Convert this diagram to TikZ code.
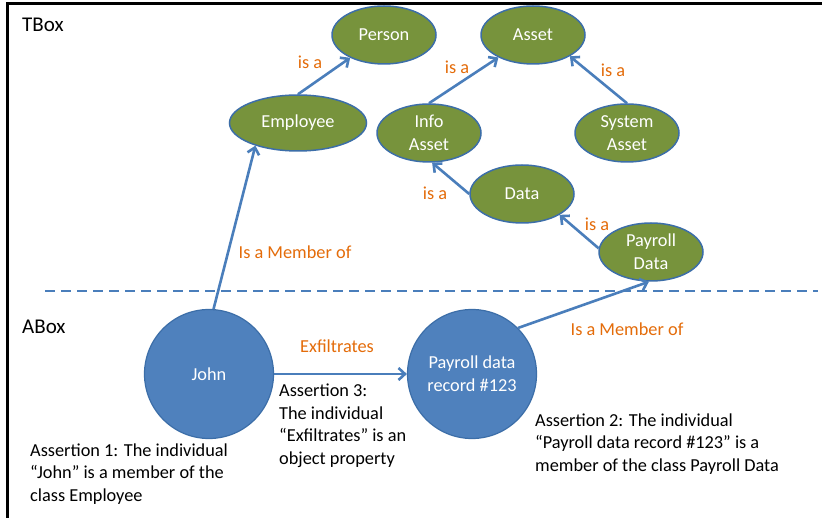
\documentclass[tikz,border=0pt]{standalone}
\usepackage{fontspec}
\setmainfont{Carlito}
\usetikzlibrary{shapes.geometric,arrows.meta}
\definecolor{olive}{HTML}{77933C}
\definecolor{shapeblue}{HTML}{4F81BD}
\definecolor{edgeblue}{HTML}{4A7EBB}
\definecolor{borderblue}{HTML}{3C6EA8}
\definecolor{lblorange}{HTML}{E46C0A}
\tikzset{
  cls/.style={ellipse, fill=olive, draw=borderblue, line width=1.5pt, text=white,
    minimum width=104pt, minimum height=58pt, inner sep=0pt, align=center,
    font=\fontsize{18.3}{23}\selectfont},
  indiv/.style={circle, fill=shapeblue, draw=borderblue, line width=1.2pt, text=white,
    minimum size=129pt, inner sep=0pt, align=center, font=\fontsize{18.3}{23}\selectfont},
  rel/.style={draw=edgeblue, line width=2.6pt, -{Straight Barb[length=6.5pt,width=12pt,line width=2.6pt]}},
  lbl/.style={text=lblorange, inner sep=0pt, font=\fontsize{18.3}{22}\selectfont},
  note/.style={inner sep=0pt, anchor=west, align=left, text=black, font=\fontsize{18.3}{22.5}\selectfont},
  boxlbl/.style={inner sep=0pt, anchor=west, text=black, font=\fontsize{21}{25}\selectfont}
}
\begin{document}
\begin{tikzpicture}[x=1pt,y=-1pt]
\useasboundingbox (0,0) rectangle (822,518);
\fill[white] (0,0) rectangle (822,518);
\draw[line width=2.6pt, black] (7.5,518) -- (7.5,3.5) -- (822,3.5);
\coordinate (dl) at (45,291);
\coordinate (dr) at (818,291);
\draw[edgeblue, line width=2.8pt, dash pattern=on 10pt off 6pt] (dl) -- (dr);

\node[boxlbl] (tbox) at (22,25) {TBox};
\node[boxlbl] (abox) at (22,327) {ABox};

\node[cls] (person) at (384,35) {Person};
\node[cls, minimum width=137pt, minimum height=56pt] (employee) at (298,123) {Employee};
\node[cls] (asset) at (533,35) {Asset};
\node[cls] (info) at (429,133) {Info\\Asset};
\node[cls] (system) at (627,133) {System\\Asset};
\node[cls] (data) at (522,194) {Data};
\node[cls] (payroll) at (651,252) {Payroll\\Data};

\node[indiv] (john) at (209,374) {John};
\node[indiv] (record) at (472,374) {Payroll data\\record \#123};

\draw[rel] (employee.north) -- (person.214);
\draw[rel] (info.north) -- (asset.213);
\draw[rel] (system.north) -- (asset.330);
\draw[rel] (data.west) -- (info.276);
\draw[rel] (payroll.176) -- (data.331);
\draw[rel] (john.86) -- (employee.208);
\draw[rel] (john.east) -- (record.west);
\draw[rel] (record.45) -- (payroll.266);

\node[lbl] (l1) at (310,62) {is a};
\node[lbl] (l2) at (457,67) {is a};
\node[lbl] (l3) at (613,70) {is a};
\node[lbl] (l4) at (435,193) {is a};
\node[lbl] (l5) at (597,224) {is a};
\node[lbl] (m1) at (295,252) {Is a Member of};
\node[lbl] (ex) at (337,346) {Exfiltrates};
\node[lbl] (m2) at (627,329) {Is a Member of};

\node[note] (a1) at (30,474) {Assertion 1: The individual\\“John” is a member of the\\class Employee};
\node[note] (a3) at (279,425.5) {Assertion 3:\\The individual\\“Exfiltrates” is an\\object property};
\node[note] (a2) at (535,444) {Assertion 2: The individual\\“Payroll data record \#123” is a\\member of the class Payroll Data};
\end{tikzpicture}
\end{document}
